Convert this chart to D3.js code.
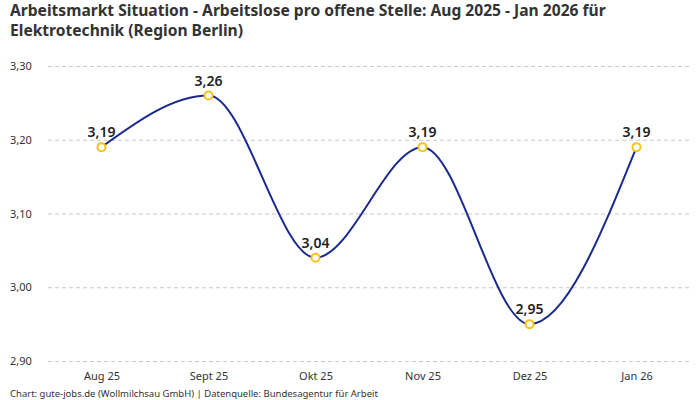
<!DOCTYPE html>
<html>
<head>
<meta charset="utf-8">
<script src="https://cdn.jsdelivr.net/npm/d3@7"></script>
<style>
  html, body { margin: 0; padding: 0; background: #fff; }
  svg { display: block; font-family: "Noto Sans", "Open Sans", sans-serif; }
</style>
</head>
<body>
<svg id="chart" width="700" height="400"></svg>
<script>
const categories = ["Aug 25", "Sept 25", "Okt 25", "Nov 25", "Dez 25", "Jan 26"];
const values = [3.19, 3.26, 3.04, 3.19, 2.95, 3.19];
const yTicks = [2.90, 3.00, 3.10, 3.20, 3.30];
const titleLines = [
  "Arbeitsmarkt Situation - Arbeitslose pro offene Stelle: Aug 2025 - Jan 2026 für",
  "Elektrotechnik (Region Berlin)"
];
const footerText = "Chart: gute-jobs.de (Wollmilchsau GmbH) | Datenquelle: Bundesagentur für Arbeit";

const fmt = v => v.toFixed(2).replace(".", ",");

const svg = d3.select("#chart");
const plotLeft = 48, plotRight = 690, plotTop = 66, plotBottom = 361;

const x = d3.scalePoint().domain(categories).range([plotLeft, plotRight]).padding(0.5);
const y = d3.scaleLinear().domain([2.90, 3.30]).range([plotBottom, plotTop]);

// Title
svg.append("g").selectAll("text").data(titleLines).join("text")
  .attr("x", 10).attr("y", (d, i) => 16 + i * 20)
  .attr("font-size", 15.6).attr("font-weight", 700).attr("fill", "#333")
  .text(d => d);

// Grid + y labels
const yAxis = d3.axisLeft(y).tickValues(yTicks).tickSize(-(plotRight - plotLeft)).tickFormat(fmt);
const gy = svg.append("g").attr("transform", `translate(${plotLeft},0)`).call(yAxis);
gy.select(".domain").remove();
gy.selectAll(".tick line").attr("stroke", "#c8c8c8").attr("stroke-dasharray", "4,3");
gy.selectAll(".tick text").attr("x", -38).attr("text-anchor", "start")
  .attr("font-size", 11).attr("fill", "#333").attr("font-family", "Noto Sans, sans-serif");

// X axis labels
const xAxis = d3.axisBottom(x).tickSize(0).tickPadding(0);
const gx = svg.append("g").attr("transform", `translate(0,${plotBottom})`).call(xAxis);
gx.select(".domain").remove();
gx.selectAll(".tick text").attr("dy", 0).attr("y", 19)
  .attr("font-size", 11).attr("fill", "#333").attr("font-family", "Noto Sans, sans-serif");

// Line
const data = categories.map((c, i) => ({ c, v: values[i] }));
const line = d3.line().x(d => x(d.c)).y(d => y(d.v)).curve(d3.curveMonotoneX);
svg.append("path").datum(data).attr("d", line)
  .attr("fill", "none").attr("stroke", "#1b2a8c").attr("stroke-width", 2);

// Points
svg.append("g").selectAll("circle").data(data).join("circle")
  .attr("cx", d => x(d.c)).attr("cy", d => y(d.v)).attr("r", 4)
  .attr("fill", "#fff").attr("stroke", "#f6c21c").attr("stroke-width", 2);

// Value labels
svg.append("g").selectAll("text").data(data).join("text")
  .attr("x", d => x(d.c)).attr("y", d => y(d.v) - 10)
  .attr("text-anchor", "middle").attr("font-size", 14).attr("font-weight", 600)
  .attr("fill", "#222").text(d => fmt(d.v));

// Footer
svg.append("text").attr("x", 10).attr("y", 397)
  .attr("font-size", 9.5).attr("fill", "#333").text(footerText);
</script>
</body>
</html>
